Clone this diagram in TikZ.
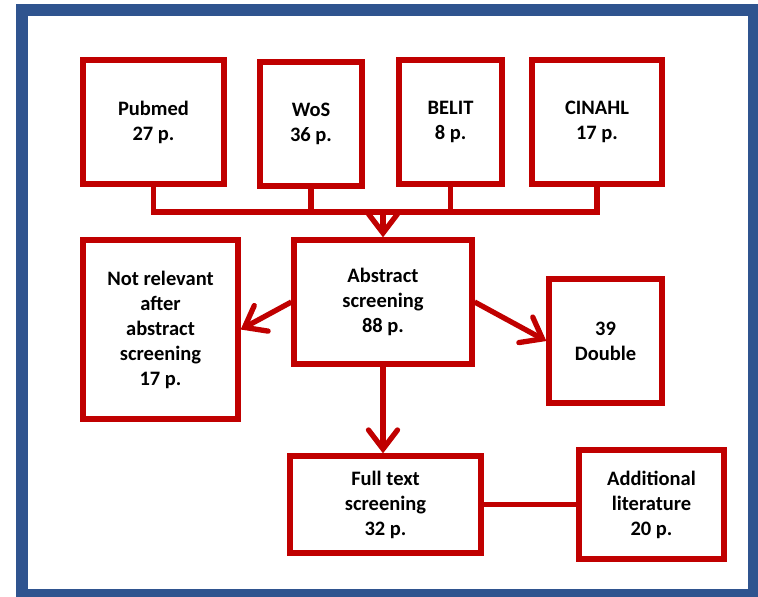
\documentclass[tikz,border=0pt]{standalone}
\usepackage{fontspec}
\setmainfont{Carlito}
\usetikzlibrary{arrows.meta}
\definecolor{boxred}{RGB}{192,0,0}
\definecolor{framblue}{RGB}{47,84,143}
\begin{document}
\begin{tikzpicture}[x=1pt, y=-1pt,
  box/.style={rectangle, draw=boxred, line width=5.3pt, align=center, inner sep=0pt,
    font=\fontsize{20.5}{25}\selectfont\bfseries},
  link/.style={draw=boxred, line width=5.3pt},
  arr/.style={link, -{Straight Barb[length=19pt, width=29pt, line cap=round]}}]
\useasboundingbox (0,0) rectangle (758,597);
\draw [framblue, line width=12pt] (22,10) rectangle (754,595);

\node [box, minimum width=141, minimum height=124] (pubmed) at (153.5,122) {Pubmed\\27 p.};
\node [box, minimum width=102, minimum height=124] (wos) at (311,124) {WoS\\36 p.};
\node [box, minimum width=103, minimum height=124] (belit) at (450.5,122) {BELIT\\8 p.};
\node [box, minimum width=130, minimum height=124] (cinahl) at (597,122) {CINAHL\\17 p.};

\node [box, minimum width=178, minimum height=124] (abstract) at (383,302) {Abstract\\screening\\88 p.};
\node [box, minimum width=155, minimum height=179] (notrel) at (160.5,329.5) {Not relevant\\after\\abstract\\screening\\17 p.};
\node [box, minimum width=113, minimum height=124] (double) at (605.5,341) {39\\Double};
\node [box, minimum width=191, minimum height=97] (fulltext) at (385.5,504.5) {Full text\\screening\\32 p.};
\node [box, minimum width=145, minimum height=109] (addlit) at (651.5,504.5) {Additional\\literature\\20 p.};

\coordinate (bus) at (383,212);
\draw [link] (pubmed.south) |- (bus) -| (cinahl.south);
\draw [link] (wos.south) -- (wos.south |- bus);
\draw [link] (belit.south) -- (belit.south |- bus);
\draw [arr] (bus) -- (abstract.north);

\draw [arr] (abstract.west) -- (notrel.east);
\draw [arr] (abstract.east) -- (double.west);
\draw [arr] (abstract.south) -- (abstract.south |- fulltext.north);
\draw [link] (fulltext.east) -- (addlit.west);
\end{tikzpicture}
\end{document}
